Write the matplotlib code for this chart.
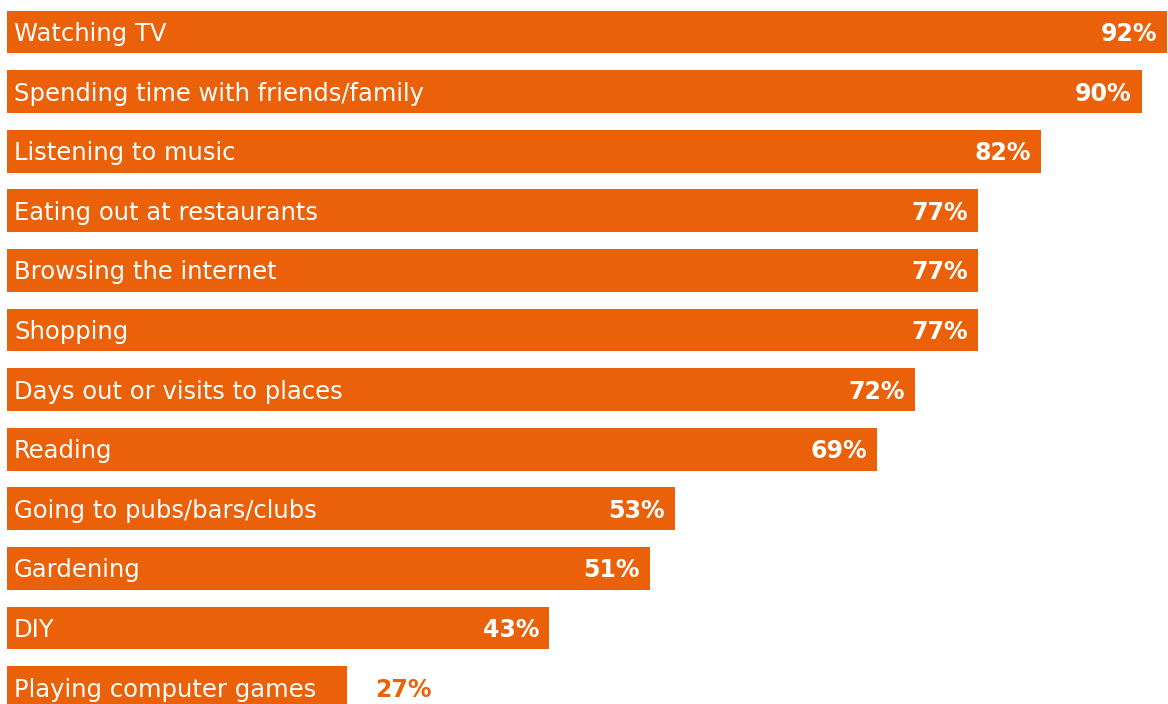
import matplotlib.pyplot as plt

activities = [
    "Watching TV",
    "Spending time with friends/family",
    "Listening to music",
    "Eating out at restaurants",
    "Browsing the internet",
    "Shopping",
    "Days out or visits to places",
    "Reading",
    "Going to pubs/bars/clubs",
    "Gardening",
    "DIY",
    "Playing computer games",
]
shares = [92, 90, 82, 77, 77, 77, 72, 69, 53, 51, 43, 27]

ORANGE = "#EB610A"


def main():
    plt.rcParams["font.family"] = "DejaVu Sans"
    fig = plt.figure(figsize=(11.68, 7.04), dpi=100)
    ax = fig.add_axes([7 / 1168, 0, 1160 / 1168, 1])

    pos = list(range(len(activities)))
    ax.barh(pos, shares, height=0.72, color=ORANGE, left=0)

    for i, (name, val) in enumerate(zip(activities, shares)):
        ax.annotate(name, (0, i), xytext=(7, -2), textcoords="offset pixels",
                    ha="left", va="center", color="white", fontsize=17.5)
        if val > 35:
            ax.annotate(f"{val}%", (val, i), xytext=(-10, -2),
                        textcoords="offset pixels", ha="right", va="center",
                        color="white", fontsize=17, fontweight="bold")
        else:
            ax.annotate(f"{val}%", (val, i), xytext=(28, -2),
                        textcoords="offset pixels", ha="left", va="center",
                        color=ORANGE, fontsize=17, fontweight="bold")

    ax.set_xlim(0, 92)
    ax.set_ylim(11.275, -0.537)
    ax.axis("off")

    fig.savefig("out.png", dpi=100)


if __name__ == "__main__":
    main()
